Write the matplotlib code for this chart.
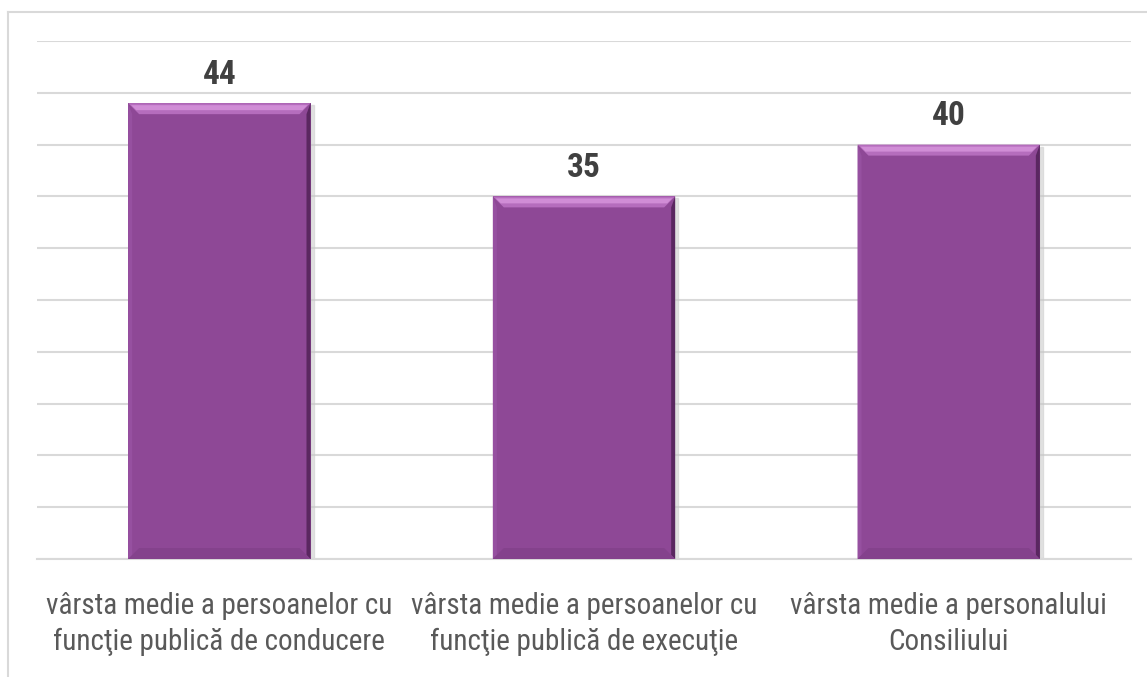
import matplotlib
matplotlib.use("Agg")
import matplotlib.pyplot as plt
from matplotlib import font_manager
from matplotlib.patches import Polygon
from matplotlib.lines import Line2D

# data
categories = ["vârsta medie a persoanelor cu\nfuncţie publică de conducere",
              "vârsta medie a persoanelor cu\nfuncţie publică de execuţie",
              "vârsta medie a personalului\nConsiliului"]
values = [44, 35, 40]

# pick a condensed font if there is one
names = set(f.name for f in font_manager.fontManager.ttflist)
font = "Roboto"
for cand in ["Roboto Condensed", "Liberation Sans Narrow", "Roboto"]:
    if cand in names:
        font = cand
        break
plt.rcParams['font.family'] = [font, 'DejaVu Sans']

fig = plt.figure(figsize=(11.47, 6.77), dpi=100)
ax = fig.add_axes([37/1147, 1-559/677, (1131-37)/1147, (559-41)/677])

x = range(len(values))
bars = ax.bar(x, values, width=0.5, color="#8E4896", zorder=3)

ax.set_xlim(-0.5, 2.5)
ax.set_ylim(0, 50)
ax.set_yticks(range(0, 51, 5))
ax.yaxis.grid(True, color="#D9D9D9", linewidth=1.5, zorder=0)
ax.tick_params(axis='y', left=False, labelleft=False)
ax.tick_params(axis='x', length=0, pad=24)
ax.set_xticks(list(x))
ax.set_xticklabels(categories, fontsize=21, color="#595959", linespacing=1.35)
for s in ["top", "right", "left"]:
    ax.spines[s].set_visible(False)
ax.spines["bottom"].set_color("#D9D9D9")
ax.spines["bottom"].set_linewidth(1.5)

for b, v in zip(bars, values):
    ax.annotate(str(v), (b.get_x() + b.get_width()/2, v), xytext=(0, 9),
                textcoords="offset points", ha="center", va="bottom",
                fontsize=24, fontweight="bold", color="#404040")

# bevel look on the bars
fig.canvas.draw()
for b in bars:
    (x0, y0), (x1, y1) = ax.transData.transform([(b.get_x(), 0),
                                                  (b.get_x() + b.get_width(), b.get_height())])
    t = 11
    s = 4
    # shadow
    ax.add_patch(Polygon([(x0+2, y0-3), (x1+3, y0-3), (x1+3, y1-2), (x1, y1-2), (x1, y0)],
                         closed=True, transform=None, color="#C8C8C8", alpha=0.5, zorder=2))
    # top highlight
    ax.add_patch(Polygon([(x0, y1), (x1, y1), (x1-t, y1-t), (x0+t, y1-t)],
                         closed=True, transform=None, color="#B56DBD", zorder=4, lw=0))
    ax.add_patch(Polygon([(x0+3, y1-2), (x1-3, y1-2), (x1-t+3, y1-t+4), (x0+t-3, y1-t+4)],
                         closed=True, transform=None, color="#D08DD6", zorder=4, lw=0))
    # right dark edge
    ax.add_patch(Polygon([(x1, y1), (x1, y0), (x1-s, y0+s), (x1-s, y1-t)],
                         closed=True, transform=None, color="#5A2760", zorder=4, lw=0))
    # left light edge
    ax.add_patch(Polygon([(x0, y1), (x0, y0), (x0+s, y0+s), (x0+s, y1-t)],
                         closed=True, transform=None, color="#9650A0", zorder=4, lw=0))
    # bottom dark edge
    ax.add_patch(Polygon([(x0, y0), (x1, y0), (x1-t, y0+t), (x0+t, y0+t)],
                         closed=True, transform=None, color="#84428C", zorder=4, lw=0))

# outer chart frame
fig.add_artist(Line2D([8/1147, 1], [1-12/677, 1-12/677], color="#D9D9D9", lw=1.5))
fig.add_artist(Line2D([8/1147, 8/1147], [0, 1-12/677], color="#D9D9D9", lw=1.5))

plt.savefig("out.png", dpi=100)
